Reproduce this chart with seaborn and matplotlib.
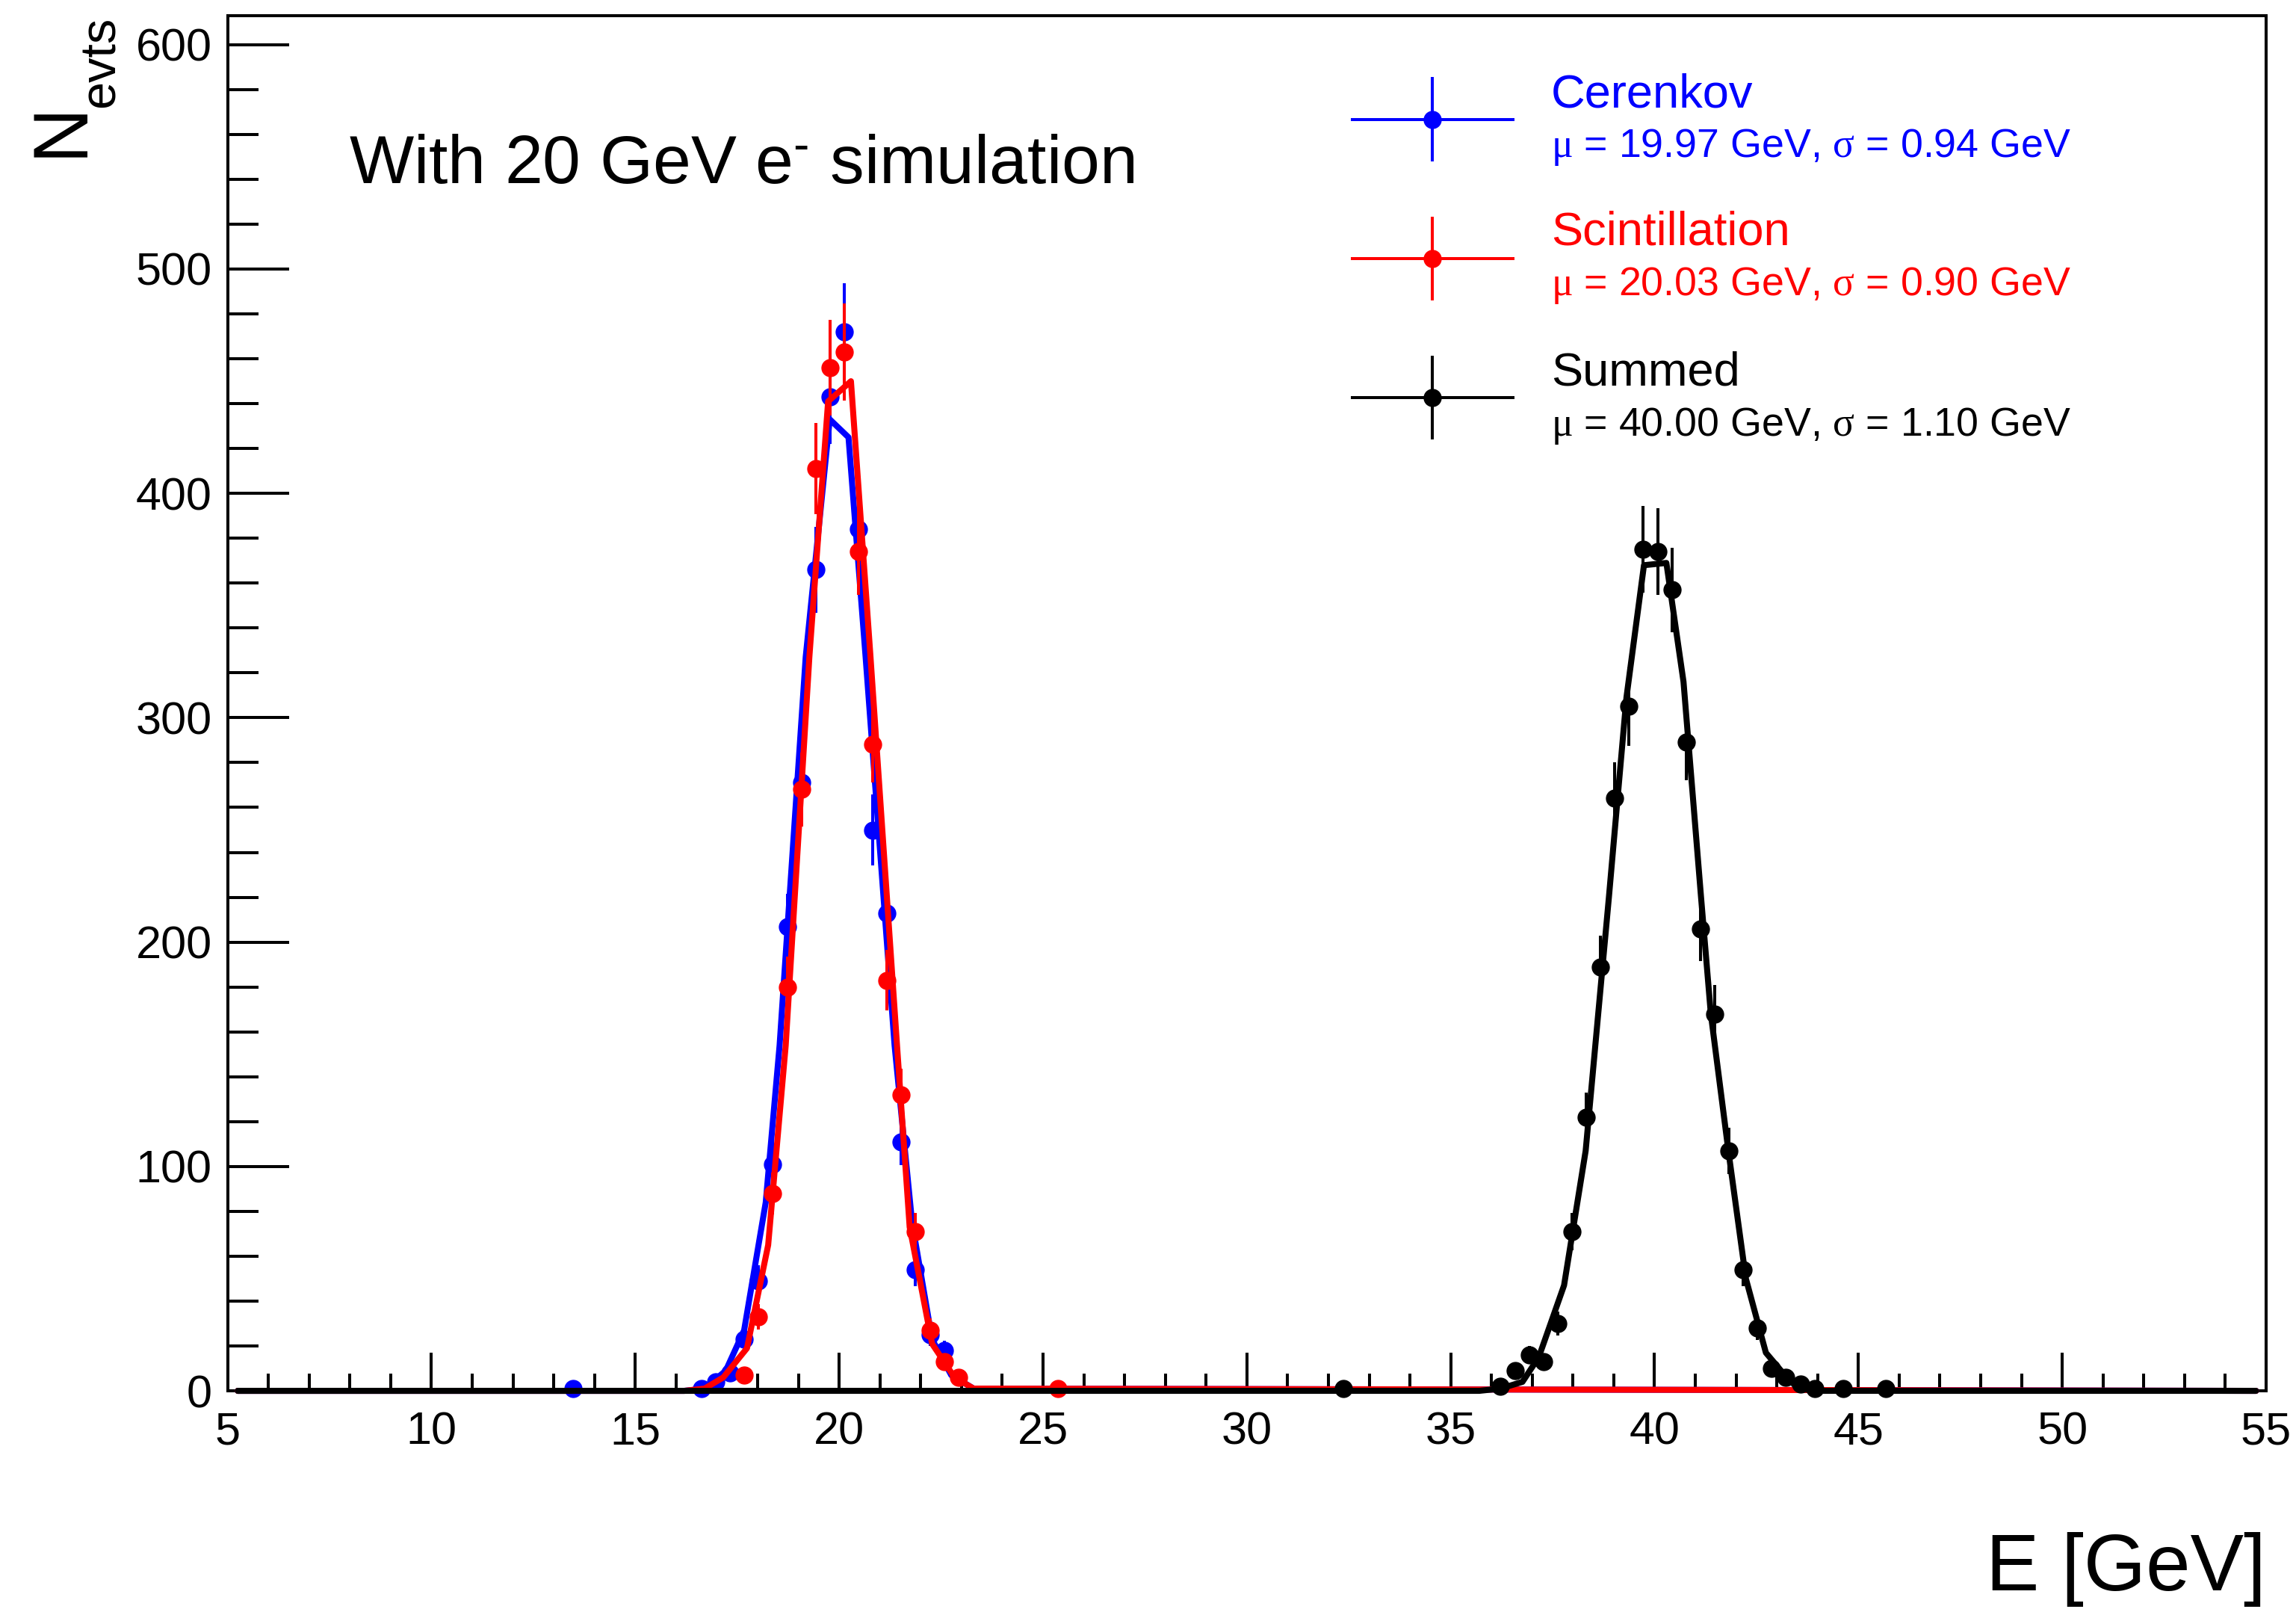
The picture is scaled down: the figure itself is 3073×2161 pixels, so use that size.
import numpy as np
import pandas as pd
import matplotlib
matplotlib.use("Agg")
import matplotlib.pyplot as plt
import seaborn as sns
from matplotlib.ticker import MultipleLocator
from matplotlib.legend_handler import HandlerErrorbar
from matplotlib.container import ErrorbarContainer

# ---- histogram contents (bin centres in GeV, event counts) ----
cer_x = [13.475, 16.625, 16.975, 17.325, 17.675, 18.025, 18.375, 18.725, 19.075,
         19.425, 19.775, 20.125, 20.475, 20.825, 21.175, 21.525, 21.875, 22.225, 22.575]
cer_n = [1, 1, 4, 8, 23, 49, 101, 207, 271, 366, 443, 472, 384, 250, 213, 111, 54, 25, 18]

sci_x = [17.675, 18.025, 18.375, 18.725, 19.075, 19.425, 19.775, 20.125, 20.475,
         20.825, 21.175, 21.525, 21.875, 22.225, 22.575, 22.925, 25.375]
sci_n = [7, 33, 88, 180, 268, 411, 456, 463, 374, 288, 183, 132, 71, 27, 13, 6, 1]

sum_x = [32.375, 36.225, 36.575, 36.925, 37.275, 37.625, 37.975, 38.325, 38.675,
         39.025, 39.375, 39.725, 40.075, 40.425, 40.775, 41.125, 41.475, 41.825,
         42.175, 42.525, 42.875, 43.225, 43.575, 43.925, 44.625, 45.675]
sum_n = [1, 2, 9, 16, 13, 30, 71, 122, 189, 264, 305, 375, 374, 357, 289, 206, 168,
         107, 54, 28, 10, 6, 3, 1, 1, 1]

BIN_HALF_WIDTH = 0.175

# ---- smooth reference curves drawn over the histograms ----
cer_curve_x = [5.25, 16.2, 16.7, 17.22, 17.67, 18.2, 18.54, 19.18, 19.77, 20.23,
               20.65, 21.36, 21.79, 22.28, 22.75, 23.3, 54.75]
cer_curve_y = [0, 0, 1, 9, 27, 84, 154, 327, 433, 425, 327, 154, 75, 23, 7, 1, 0]

sci_curve_x = [5.25, 16.2, 16.7, 17.16, 17.74, 18.26, 18.69, 19.27, 19.73, 20.29,
               20.77, 21.42, 21.73, 22.28, 22.83, 23.3, 54.75]
sci_curve_y = [0, 0, 1, 6, 19, 65, 154, 327, 441, 450, 327, 154, 73, 21, 6, 1, 0]

sum_curve_x = [5.25, 35.7, 36.22, 36.76, 37.16, 37.78, 38.31, 38.88, 39.31, 39.74,
               40.29, 40.71, 41.14, 41.38, 41.81, 42.24, 42.73, 43.24, 43.53, 44.0, 54.75]
sum_curve_y = [0, 0, 1, 4, 15, 47, 107, 220, 309, 368, 369, 316, 220, 168, 107, 50,
               17, 6, 1, 0, 0]

labels = ["Cerenkov", "Scintillation", "Summed"]
stats = [r"$\mu$ = 19.97 GeV, $\sigma$ = 0.94 GeV",
         r"$\mu$ = 20.03 GeV, $\sigma$ = 0.90 GeV",
         r"$\mu$ = 40.00 GeV, $\sigma$ = 1.10 GeV"]
colors = ["#0000ff", "#ff0000", "#000000"]

# ---- style ----
sns.set_theme(style="white")
plt.rcParams["font.family"] = ["Liberation Sans", "DejaVu Sans"]
plt.rcParams["mathtext.fontset"] = "custom"
plt.rcParams["mathtext.rm"] = "Liberation Sans"
plt.rcParams["mathtext.it"] = "Liberation Serif"
plt.rcParams["mathtext.bf"] = "Liberation Sans:bold"

W, H = 3073, 2161
fig = plt.figure(figsize=(W / 100, H / 100), dpi=100)
fig.patch.set_facecolor("white")
ax = fig.add_axes([0.0991, 0.1388, 0.8879, 0.8516])
ax.set_facecolor("white")

points = [(cer_x, cer_n), (sci_x, sci_n), (sum_x, sum_n)]
curves = [(cer_curve_x, cer_curve_y), (sci_curve_x, sci_curve_y), (sum_curve_x, sum_curve_y)]

handles = []
z = 3
for (px, py), (cx, cy), col in zip(points, curves, colors):
    py = np.asarray(py, dtype=float)
    eb = ax.errorbar(px, py, xerr=BIN_HALF_WIDTH, yerr=np.sqrt(py), fmt="o",
                     color=col, ms=16.5, elinewidth=2.9, capsize=0, zorder=z)
    for art in eb.get_children():
        art.set_clip_on(False)
    handles.append(eb)
    df = pd.DataFrame({"E": cx, "N": cy})
    sns.lineplot(data=df, x="E", y="N", color=col, linewidth=5.8, sort=False,
                 estimator=None, ax=ax, zorder=z + 1, clip_on=False)
    z += 2

ax.set_xlim(5, 55)
ax.set_ylim(0, 613)
ax.set_xlabel("")
ax.set_ylabel("")

ax.xaxis.set_major_locator(MultipleLocator(5))
ax.xaxis.set_minor_locator(MultipleLocator(1))
ax.yaxis.set_major_locator(MultipleLocator(100))
ax.yaxis.set_minor_locator(MultipleLocator(20))
ax.tick_params(axis="both", which="both", direction="in", colors="black",
               top=False, right=False, bottom=True, left=True, width=2.9)
ax.tick_params(axis="x", which="major", length=36.7, pad=20, labelsize=44)
ax.tick_params(axis="x", which="minor", length=16.6)
ax.tick_params(axis="y", which="major", length=59, pad=15, labelsize=44)
ax.tick_params(axis="y", which="minor", length=29.5)
for sp in ax.spines.values():
    sp.set_visible(True)
    sp.set_color("black")
    sp.set_linewidth(2.9)

# ---- legend glyphs ----
leg = ax.legend(handles, [" "] * 3, loc="upper left",
                bbox_to_anchor=(1808 / W, 1 - 125.5 / H), bbox_transform=fig.transFigure,
                frameon=False, numpoints=1, handlelength=3.5, handleheight=2.0,
                labelspacing=1.434, handletextpad=0.5, borderpad=0, borderaxespad=0,
                fontsize=45,
                handler_map={ErrorbarContainer: HandlerErrorbar(xerr_size=1.75, yerr_size=0.9)})

label_base = [143, 327, 515]
stat_base = [210, 395, 583]
for lab, st, col, lb, sb in zip(labels, stats, colors, label_base, stat_base):
    fig.text(2076 / W, 1 - lb / H, lab, color=col, fontsize=45.5, ha="left", va="baseline")
    fig.text(2076 / W, 1 - sb / H, st, color=col, fontsize=38.7, ha="left", va="baseline")

# ---- titles ----
fig.text(467 / W, 1 - 245 / H, r"With 20 GeV e$^{\text{-}}$ simulation", fontsize=65.8,
         ha="left", va="baseline", color="black")
fig.text(3033 / W, 1 - 2128 / H, "E [GeV]", fontsize=77, ha="right", va="baseline",
         color="black")
fig.text(153 / W, 1 - 22 / H, "evts", fontsize=48, rotation=90,
         rotation_mode="anchor", ha="right", va="baseline", color="black")
fig.text(110 / W, 1 - 136 / H, "N", fontsize=74, rotation=90,
         rotation_mode="anchor", ha="right", va="baseline", color="black")

fig.savefig("out.png", dpi=100, facecolor="white")
